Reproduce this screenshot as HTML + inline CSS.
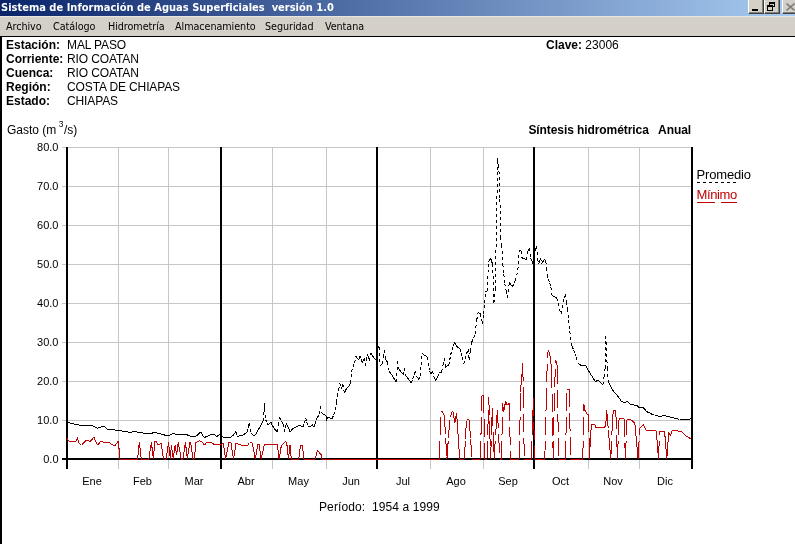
<!DOCTYPE html>
<html><head><meta charset="utf-8"><title>Sistema de Información de Aguas Superficiales</title>
<style>
html,body{margin:0;padding:0;background:#fff;}
body{width:795px;height:544px;position:relative;overflow:hidden;font-family:"Liberation Sans",Arial,sans-serif;font-size:12px;color:#000;}
.t{position:absolute;white-space:pre;line-height:14px;}
.b{font-weight:bold;}
#title{position:absolute;left:0;top:0;width:795px;height:16px;background:linear-gradient(to right,#0a246a 0px,#a6caf0 790px);}
#title span{position:absolute;left:1px;top:0px;color:#fff;font:bold 11px/15px "DejaVu Sans Condensed","DejaVu Sans","Liberation Sans",sans-serif;white-space:pre;letter-spacing:0.01px}
#menu{position:absolute;left:0;top:16px;width:795px;height:20px;background:#d4d0c8;border-top:1px solid #e8e6e0;box-sizing:border-box}
#menu span{position:absolute;top:3px;font:10.7px/13px "DejaVu Sans Condensed","DejaVu Sans","Liberation Sans",sans-serif;white-space:pre;letter-spacing:-0.05px}
#bt{position:absolute;left:0;top:36px;width:795px;height:1px;background:#000}
#bl{position:absolute;left:0;top:36px;width:2px;height:508px;background:#000}
.btn{position:absolute;top:-2px;height:16px;background:#d4d0c8;box-sizing:border-box;border:1px solid;border-color:#fff #404040 #404040 #fff;box-shadow:inset -1px -1px 0 #808080}
</style></head><body>
<div id="title"><span>Sistema de Información de Aguas Superficiales  versión 1.0</span>
<div class="btn" style="left:748px;width:16px"><div style="position:absolute;left:3px;top:10px;width:6px;height:2px;background:#000"></div></div>
<div class="btn" style="left:764px;width:16px">
 <div style="position:absolute;left:4px;top:3px;width:6px;height:5px;box-sizing:border-box;border:1px solid #000;border-top-width:2px"></div>
 <div style="position:absolute;left:2px;top:6px;width:6px;height:6px;box-sizing:border-box;border:1px solid #000;border-top-width:2px;background:#d4d0c8"></div>
</div>
<div class="btn" style="left:782px;width:16px"><svg width="10" height="9" style="position:absolute;left:3px;top:4px" viewBox="0 0 10 9"><path d="M0.5 0.5L8.5 7.5M8.5 0.5L0.5 7.5" stroke="#808080" stroke-width="1.6" fill="none"/></svg></div>
</div>
<div id="menu"><span style="left:6px">Archivo</span><span style="left:53px">Catálogo</span><span style="left:108px">Hidrometría</span><span style="left:175px">Almacenamiento</span><span style="left:265px">Seguridad</span><span style="left:325px">Ventana</span></div>
<div id="bt"></div><div id="bl"></div>
<div class="t b" style="left:6px;top:38px">Estación:
Corriente:
Cuenca:
Región:
Estado:</div>
<div class="t" style="left:67px;top:38px;letter-spacing:-0.12px">MAL PASO
RIO COATAN
RIO COATAN
COSTA DE CHIAPAS
CHIAPAS</div>
<div class="t" style="left:546px;top:38px"><b>Clave:</b> 23006</div>
<div class="t" style="left:7px;top:123px">Gasto (m<span style="font-size:8.5px;position:relative;top:-7px;margin:0 0.6px 0 2.3px">3</span>/s)</div>
<div class="t b" style="right:104px;top:123px;letter-spacing:-0.08px">Síntesis hidrométrica   Anual</div>
<div class="t" style="left:696.5px;top:167px;font-size:13px;line-height:15px;letter-spacing:-0.15px">Promedio</div>
<div class="t" style="left:696.5px;top:187px;font-size:13px;line-height:15px;color:#c00000;letter-spacing:-0.4px">Mínimo</div>
<div class="t" style="left:319px;top:500px;letter-spacing:0.1px">Período:  1954 a 1999</div>
<svg width="795" height="544" viewBox="0 0 795 544" style="position:absolute;left:0;top:0">
<g shape-rendering="crispEdges">
<rect x="62" y="147" width="630" height="1" fill="#c6c6c6"/>
<rect x="62" y="186" width="630" height="1" fill="#c6c6c6"/>
<rect x="62" y="225" width="630" height="1" fill="#c6c6c6"/>
<rect x="62" y="264" width="630" height="1" fill="#c6c6c6"/>
<rect x="62" y="303" width="630" height="1" fill="#c6c6c6"/>
<rect x="62" y="342" width="630" height="1" fill="#c6c6c6"/>
<rect x="62" y="381" width="630" height="1" fill="#c6c6c6"/>
<rect x="62" y="420" width="630" height="1" fill="#c6c6c6"/>
<rect x="118" y="147" width="1" height="322" fill="#c6c6c6"/>
<rect x="168" y="147" width="1" height="322" fill="#c6c6c6"/>
<rect x="272" y="147" width="1" height="322" fill="#c6c6c6"/>
<rect x="326" y="147" width="1" height="322" fill="#c6c6c6"/>
<rect x="430" y="147" width="1" height="322" fill="#c6c6c6"/>
<rect x="483" y="147" width="1" height="322" fill="#c6c6c6"/>
<rect x="588" y="147" width="1" height="322" fill="#c6c6c6"/>
<rect x="639" y="147" width="1" height="322" fill="#c6c6c6"/>
<rect x="66" y="147" width="2" height="322" fill="#000"/>
<rect x="220" y="147" width="2" height="322" fill="#000"/>
<rect x="376" y="147" width="2" height="322" fill="#000"/>
<rect x="533" y="147" width="2" height="322" fill="#000"/>
<rect x="691" y="147" width="2" height="322" fill="#000"/>
<rect x="62" y="458" width="631" height="2" fill="#000"/>
</g>
<g fill="none" stroke-width="1" shape-rendering="crispEdges">
<path stroke="#000" stroke-dasharray="3 3" d="M67.0 422.3L68.6 422.7M68.6 422.7L70.1 423.0M70.1 423.0L71.7 423.4M71.7 423.4L73.2 423.7M73.2 423.7L74.8 424.1M74.8 424.1L76.4 424.5M76.4 424.5L77.9 424.8M77.9 424.8L79.5 425.2M79.5 425.2L81.0 425.5M81.0 425.5L82.6 425.9M82.6 425.9L84.2 425.8M84.2 425.8L85.8 425.7M85.8 425.7L87.4 425.5M87.4 425.5L89.0 425.4M89.0 425.4L90.6 425.3M90.6 425.3L92.0 425.6M92.0 425.6L93.4 425.9M93.4 425.9L94.7 426.7M94.7 426.7L96.1 427.5M96.1 427.5L97.4 428.3M97.4 428.3L99.1 427.7M99.1 427.7L100.8 427.0M100.8 427.0L102.5 426.4M102.5 426.4L103.6 426.6M103.6 426.6L104.7 426.8M104.7 426.8L105.8 427.9M105.8 427.9L107.0 429.0M107.0 429.0L108.6 429.2M108.6 429.2L110.2 429.4M110.2 429.4L111.8 429.6M111.8 429.6L113.5 429.8M113.5 429.8L115.1 430.0M115.1 430.0L116.7 430.2M116.7 430.2L118.3 430.4M118.3 430.4L120.0 430.7M120.0 430.7L121.7 431.0M121.7 431.0L123.4 431.3M123.4 431.3L125.1 431.5M125.1 431.5L126.8 431.8M126.8 431.8L128.5 432.1M128.5 432.1L130.2 432.4M130.2 432.4L131.7 432.1M131.7 432.1L133.2 431.8M133.2 431.8L134.7 431.5M134.7 431.5L136.3 431.8M136.3 431.8L137.9 432.1M137.9 432.1L139.5 432.3M139.5 432.3L141.1 432.6M141.1 432.6L142.6 432.9M142.6 432.9L144.2 433.2M144.2 433.2L145.8 433.4M145.8 433.4L147.4 433.7M147.4 433.7L149.0 434.0M149.0 434.0L150.4 433.6M150.4 433.6L151.8 433.2M151.8 433.2L153.3 432.8M153.3 432.8L154.7 432.4M154.7 432.4L156.4 432.8M156.4 432.8L158.1 433.3M158.1 433.3L159.8 433.7M159.8 433.7L161.5 434.2M161.5 434.2L163.2 434.6M163.2 434.6L164.9 435.1M164.9 435.1L166.6 435.5M166.6 435.5L167.8 435.5M167.8 435.5L169.0 435.5M169.0 435.5L170.7 434.6M170.7 434.6L172.3 433.6M172.3 433.6L174.0 433.8M174.0 433.8L175.7 434.1M175.7 434.1L177.4 434.3M177.4 434.3L179.0 434.2M179.0 434.2L180.6 434.2M180.6 434.2L182.1 434.1M182.1 434.1L183.7 434.1M183.7 434.1L185.3 434.0M185.3 434.0L186.7 434.6M186.7 434.6L188.2 435.3M188.2 435.3L189.6 436.0M189.6 436.0L191.0 436.6M191.0 436.6L192.5 436.5M192.5 436.5L194.0 436.4M194.0 436.4L195.5 436.3M195.5 436.3L196.7 435.6M196.7 435.6L197.8 434.9M197.8 434.9L199.2 433.5M199.2 433.5L200.6 432.1M200.6 432.1L201.7 432.7M201.7 432.7L202.9 436.6M202.9 436.6L204.0 436.9M204.0 436.9L205.1 437.2M205.1 437.2L206.7 436.5M206.7 436.5L208.2 435.8M208.2 435.8L209.8 435.0M209.8 435.0L211.3 434.3M211.3 434.3L213.0 434.3M213.0 434.3L214.7 434.3M214.7 434.3L215.8 435.8M215.8 435.8L217.0 437.2M217.0 437.2L218.7 434.3M218.7 434.3L220.2 435.2M220.2 435.2L221.7 436.1M221.7 436.1L223.2 437.0M223.2 437.0L224.6 437.1M224.6 437.1L226.0 437.2M226.0 437.2L227.4 437.3M227.4 437.3L228.8 437.4M228.8 437.4L230.2 437.5M230.2 437.5L231.8 436.2M231.8 436.2L233.5 434.9M233.5 434.9L234.7 433.3M234.7 433.3L235.8 431.7M235.8 431.7L237.3 436.2M237.3 436.2L238.6 436.0M238.6 436.0L239.9 435.9M239.9 435.9L241.2 435.7M241.2 435.7L242.5 435.5M242.5 435.5L244.0 434.4M244.0 434.4L245.5 433.4M245.5 433.4L247.0 432.3M247.0 432.3L248.2 427.5M248.2 427.5L249.5 422.7M249.5 422.7L250.8 433.0M250.8 433.0L252.1 434.2M252.1 434.2L253.4 435.5M253.4 435.5L254.4 435.2M254.4 435.2L255.3 434.9M255.3 434.9L256.9 432.2M256.9 432.2L258.4 429.5M258.4 429.5L260.0 426.8M260.0 426.8L261.5 424.1M261.5 424.1L263.1 421.4M263.1 421.4L264.4 403.4M264.4 403.4L265.6 419.5M265.6 419.5L266.9 422.4M266.9 422.4L268.2 425.2M268.2 425.2L269.5 423.6M269.5 423.6L270.8 422.0M270.8 422.0L272.4 425.2M272.4 425.2L274.0 428.5M274.0 428.5L275.6 430.1M275.6 430.1L277.2 431.7M277.2 431.7L278.5 424.6M278.5 424.6L279.8 417.5M279.8 417.5L281.5 420.8M281.5 420.8L283.2 424.0M283.2 424.0L284.5 431.7M284.5 431.7L285.4 427.5M285.4 427.5L286.4 423.3M286.4 423.3L287.7 426.3M287.7 426.3L289.0 429.3M289.0 429.3L290.3 432.3M290.3 432.3L291.2 430.7M291.2 430.7L292.2 429.1M292.2 429.1L293.6 428.3M293.6 428.3L295.0 427.5M295.0 427.5L296.5 426.8M296.5 426.8L297.9 426.0M297.9 426.0L299.3 425.2M299.3 425.2L300.6 425.9M300.6 425.9L301.9 426.5M301.9 426.5L303.2 427.2M303.2 427.2L304.4 422.7M304.4 422.7L305.7 418.2M305.7 418.2L306.7 422.0M306.7 422.0L307.7 425.9M307.7 425.9L309.3 426.2M309.3 426.2L310.9 426.5M310.9 426.5L312.2 424.5M312.2 424.5L313.1 425.9M313.1 425.9L314.1 427.2M314.1 427.2L315.1 423.6M315.1 423.6L316.0 420.1M316.0 420.1L317.6 417.2M317.6 417.2L319.3 414.3M319.3 414.3L320.5 405.9M320.5 405.9L321.2 412.4M321.2 412.4L322.9 413.7M322.9 413.7L324.6 414.9M324.6 414.9L326.3 416.2M326.3 416.2L326.5 421.0M326.5 421.0L327.5 417.0M327.5 417.0L329.0 417.6M329.0 417.6L330.6 418.2M330.6 418.2L332.1 418.8M332.1 418.8L333.7 414.6M333.7 414.6L335.3 410.4M335.3 410.4L336.6 401.4M336.6 401.4L337.4 396.5M337.4 396.5L338.6 389.9M338.6 389.9L339.8 383.3M339.8 383.3L341.1 389.0M341.1 389.0L342.1 386.8M342.1 386.8L343.0 384.5M343.0 384.5L344.3 393.0M344.3 393.0L345.2 391.0M345.2 391.0L346.2 389.0M346.2 389.0L347.9 387.4M347.9 387.4L349.5 385.8M349.5 385.8L350.7 382.6M350.7 382.6L351.4 371.7M351.4 371.7L353.0 367.2M353.0 367.2L354.6 362.7M354.6 362.7L355.9 356.2M355.9 356.2L357.2 358.1M357.2 358.1L358.5 360.1M358.5 360.1L359.4 357.9M359.4 357.9L360.4 355.6M360.4 355.6L361.4 359.1M361.4 359.1L362.3 362.7M362.3 362.7L363.3 360.4M363.3 360.4L364.3 358.2M364.3 358.2L365.5 366.5M365.5 366.5L366.5 360.1M366.5 360.1L367.5 353.7M367.5 353.7L368.4 357.2M368.4 357.2L369.4 360.7M369.4 360.7L370.7 353.0M370.7 353.0L372.0 354.9M372.0 354.9L373.2 356.9M373.2 356.9L374.5 358.8M374.5 358.8L375.5 359.1M375.5 359.1L376.5 359.4M376.5 359.4L377.1 347.9M377.1 347.9L378.1 347.2M378.1 347.2L379.0 346.6M379.0 346.6L380.3 365.9M380.3 365.9L381.3 364.9M381.3 364.9L382.3 364.0M382.3 364.0L383.2 357.2M383.2 357.2L384.2 350.4M384.2 350.4L385.5 359.4M385.5 359.4L386.4 360.7M386.4 360.7L387.4 362.0M387.4 362.0L388.7 370.4M388.7 370.4L390.2 372.7M390.2 372.7L391.8 375.0M391.8 375.0L393.3 377.4M393.3 377.4L394.9 379.7M394.9 379.7L396.4 382.0M396.4 382.0L397.7 361.4M397.7 361.4L398.4 368.5M398.4 368.5L400.1 370.6M400.1 370.6L401.8 372.8M401.8 372.8L403.5 374.9M403.5 374.9L404.8 368.5M404.8 368.5L405.4 374.9M405.4 374.9L406.9 376.9M406.9 376.9L408.4 378.9M408.4 378.9L409.8 381.0M409.8 381.0L411.3 383.0M411.3 383.0L412.6 378.9M412.6 378.9L414.0 374.8M414.0 374.8L415.3 370.7M415.3 370.7L416.6 375.5M416.6 375.5L417.9 380.3M417.9 380.3L419.1 378.4M419.1 378.4L420.4 376.5M420.4 376.5L421.7 353.3M421.7 353.3L423.1 354.3M423.1 354.3L424.6 355.2M424.6 355.2L426.1 356.2M426.1 356.2L427.5 357.2M427.5 357.2L428.8 367.5M428.8 367.5L429.8 371.0M429.8 371.0L430.7 374.5M430.7 374.5L431.6 373.0M431.6 373.0L432.5 371.5M432.5 371.5L433.9 376.2M433.9 376.2L435.2 381.0M435.2 381.0L436.5 378.8M436.5 378.8L437.8 376.5M437.8 376.5L439.1 372.6M439.1 372.6L440.4 372.3M440.4 372.3L441.7 372.0M441.7 372.0L443.0 365.2M443.0 365.2L444.3 358.5M444.3 358.5L445.5 367.5M445.5 367.5L447.1 366.2M447.1 366.2L448.8 364.9M448.8 364.9L449.8 359.8M449.8 359.8L450.7 354.6M450.7 354.6L452.0 350.1M452.0 350.1L453.2 346.2M453.2 346.2L454.5 342.4M454.5 342.4L455.5 344.3M455.5 344.3L456.5 346.2M456.5 346.2L457.8 347.1M457.8 347.1L459.0 347.9M459.0 347.9L460.3 348.8M460.3 348.8L461.3 353.0M461.3 353.0L462.3 357.2M462.3 357.2L463.6 364.3M463.6 364.3L465.1 359.1M465.1 359.1L466.6 354.0M466.6 354.0L468.1 348.8M468.1 348.8L469.0 359.7M469.0 359.7L470.4 350.7M470.4 350.7L471.9 341.7M471.9 341.7L473.5 337.9M473.5 337.9L475.1 334.0M475.1 334.0L476.8 319.7M476.8 319.7L478.2 312.4M478.2 312.4L479.3 313.1M479.3 313.1L480.4 313.8M480.4 313.8L481.5 319.0M481.5 319.0L482.6 324.1M482.6 324.1L483.4 313.8M483.4 313.8L484.5 302.8M484.5 302.8L485.6 291.8M485.6 291.8L487.0 291.0M487.0 291.0L488.6 261.8M488.6 261.8L489.6 260.1M489.6 260.1L490.6 258.3M490.6 258.3L491.6 261.3M491.6 261.3L492.6 264.3M492.6 264.3L493.9 303.0M493.9 303.0L495.3 289.0M495.3 289.0L496.5 223.5M496.5 223.5L497.6 158.0M497.6 158.0L498.8 165.5M498.8 165.5L499.9 198.6M499.9 198.6L500.6 237.0M500.6 237.0L501.7 245.0M501.7 245.0L502.8 264.3M502.8 264.3L503.8 273.9M503.8 273.9L504.8 283.5M504.8 283.5L506.2 290.6M506.2 290.6L507.6 297.6M507.6 297.6L509.3 282.5M509.3 282.5L510.9 284.6M510.9 284.6L512.4 286.6M512.4 286.6L513.9 283.6M513.9 283.6L515.4 280.5M515.4 280.5L516.6 275.4M516.6 275.4L517.9 270.4M517.9 270.4L518.4 258.3M518.4 258.3L519.4 250.7M519.4 250.7L520.5 250.9M520.5 250.9L521.5 251.2M521.5 251.2L522.0 257.8M522.0 257.8L523.5 258.5M523.5 258.5L525.0 259.1M525.0 259.1L526.5 259.8M526.5 259.8L527.5 252.2M527.5 252.2L528.5 249.9M528.5 249.9L529.5 247.6M529.5 247.6L530.6 258.3M530.6 258.3L531.6 260.3M531.6 260.3L532.6 262.3M532.6 262.3L533.6 265.3M533.6 265.3L535.1 250.2M535.1 250.2L536.6 246.1M536.6 246.1L537.6 259.3M537.6 259.3L538.6 264.3M538.6 264.3L539.7 261.3M539.7 261.3L540.7 258.3M540.7 258.3L541.7 263.8M541.7 263.8L543.0 261.6M543.0 261.6L544.2 259.3M544.2 259.3L545.7 260.8M545.7 260.8L546.7 268.4M546.7 268.4L547.2 275.4M547.2 275.4L548.4 279.1M548.4 279.1L549.6 282.9M549.6 282.9L550.8 286.6M550.8 286.6L552.1 295.5M552.1 295.5L553.6 296.2M553.6 296.2L555.1 297.0M555.1 297.0L556.6 297.7M556.6 297.7L558.1 303.2M558.1 303.2L559.5 308.7M559.5 308.7L561.0 314.2M561.0 314.2L562.1 308.1M562.1 308.1L563.2 302.0M563.2 302.0L564.3 298.1M564.3 298.1L565.4 294.3M565.4 294.3L566.5 301.5M566.5 301.5L567.6 308.7M567.6 308.7L568.7 319.8M568.7 319.8L569.8 330.8M569.8 330.8L570.9 342.9M570.9 342.9L572.3 346.5M572.3 346.5L573.6 350.1M573.6 350.1L575.0 353.7M575.0 353.7L576.4 357.3M576.4 357.3L577.5 362.8M577.5 362.8L579.0 363.9M579.0 363.9L580.5 365.0M580.5 365.0L582.0 366.1M582.0 366.1L583.6 365.6M583.6 365.6L585.3 365.0M585.3 365.0L586.8 367.6M586.8 367.6L588.2 370.1M588.2 370.1L589.7 372.7M589.7 372.7L591.1 374.9M591.1 374.9L592.5 377.1M592.5 377.1L593.8 379.3M593.8 379.3L595.2 381.5M595.2 381.5L596.9 380.9M596.9 380.9L598.5 380.4M598.5 380.4L600.0 381.9M600.0 381.9L601.4 383.4M601.4 383.4L602.9 384.9M602.9 384.9L604.0 376.6M604.0 376.6L605.1 368.3M605.1 368.3L605.8 336.3M605.8 336.3L607.3 368.3M607.3 368.3L608.4 381.5M608.4 381.5L609.8 384.3M609.8 384.3L611.1 387.1M611.1 387.1L612.5 389.9M612.5 389.9L614.1 391.8M614.1 391.8L615.8 393.8M615.8 393.8L617.4 395.7M617.4 395.7L618.8 397.6M618.8 397.6L620.2 399.6M620.2 399.6L621.6 401.5M621.6 401.5L623.2 402.3M623.2 402.3L624.9 403.1M624.9 403.1L626.1 402.1M626.1 402.1L627.4 401.2M627.4 401.2L628.6 402.6M628.6 402.6L629.8 404.0M629.8 404.0L631.3 404.3M631.3 404.3L632.8 404.6M632.8 404.6L634.3 405.0M634.3 405.0L635.8 405.3M635.8 405.3L637.3 405.6M637.3 405.6L638.5 406.9M638.5 406.9L639.8 408.1M639.8 408.1L641.5 407.7M641.5 407.7L643.1 407.3M643.1 407.3L644.8 409.4M644.8 409.4L646.4 411.4M646.4 411.4L648.0 412.2M648.0 412.2L649.7 413.0M649.7 413.0L651.4 413.9M651.4 413.9L653.0 414.7M653.0 414.7L654.6 415.1M654.6 415.1L656.3 415.5M656.3 415.5L658.0 416.0M658.0 416.0L659.6 416.4M659.6 416.4L661.3 416.1M661.3 416.1L662.9 415.9M662.9 415.9L664.6 415.6M664.6 415.6L666.2 416.0M666.2 416.0L667.9 416.4M667.9 416.4L669.6 416.8M669.6 416.8L671.2 417.2M671.2 417.2L672.9 417.6M672.9 417.6L674.5 418.1M674.5 418.1L676.2 418.5M676.2 418.5L677.8 419.0M677.8 419.0L679.5 419.4M679.5 419.4L681.2 419.4M681.2 419.4L682.8 419.4M682.8 419.4L684.5 419.4M684.5 419.4L686.1 419.4M686.1 419.4L687.8 419.4M687.8 419.4L689.4 419.1M689.4 419.1L691.0 418.9"/>
<path stroke="#c00000" stroke-dasharray="18 6" d="M67.0 438.5L68.0 439.8M68.0 439.8L69.0 441.1M69.0 441.1L70.5 441.1M70.5 441.1L72.0 441.1M72.0 441.1L73.4 441.1M73.4 441.1L74.9 441.1M74.9 441.1L76.4 441.1M76.4 441.1L77.5 437.2M77.5 437.2L78.7 442.8M78.7 442.8L80.1 444.1M80.1 444.1L81.5 445.3M81.5 445.3L83.2 443.4M83.2 443.4L84.9 441.6M84.9 441.6L86.6 439.7M86.6 439.7L88.2 440.7M88.2 440.7L89.7 441.7M89.7 441.7L91.1 440.2M91.1 440.2L92.6 438.7M92.6 438.7L94.0 437.2M94.0 437.2L95.4 440.6M95.4 440.6L96.8 444.0M96.8 444.0L98.5 444.0M98.5 444.0L99.7 442.6M99.7 442.6L100.8 441.1M100.8 441.1L102.2 441.7M102.2 441.7L103.6 442.3M103.6 442.3L105.1 442.4M105.1 442.4L106.7 442.5M106.7 442.5L108.2 442.5M108.2 442.5L109.8 442.6M109.8 442.6L111.2 443.9M111.2 443.9L112.7 445.1M112.7 445.1L114.1 445.1M114.1 445.1L115.5 445.1M115.5 445.1L116.9 443.0M116.9 443.0L118.3 440.8M118.3 440.8L120.0 459.0M120.0 459.0L121.6 459.0M121.6 459.0L123.2 459.0M123.2 459.0L124.8 459.0M124.8 459.0L126.4 459.0M126.4 459.0L128.0 459.0M128.0 459.0L129.6 459.0M129.6 459.0L131.2 459.0M131.2 459.0L132.8 459.0M132.8 459.0L134.4 459.0M134.4 459.0L136.0 459.0M136.0 459.0L137.6 459.0M137.6 459.0L139.3 442.3M139.3 442.3L140.3 450.6M140.3 450.6L141.3 459.0M141.3 459.0L142.8 459.0M142.8 459.0L144.3 459.0M144.3 459.0L145.8 459.0M145.8 459.0L147.3 459.0M147.3 459.0L148.8 459.0M148.8 459.0L150.1 450.7M150.1 450.7L151.4 442.4M151.4 442.4L152.4 450.7M152.4 450.7L153.3 459.0M153.3 459.0L154.8 441.2M154.8 441.2L156.3 441.6M156.3 441.6L157.4 443.5M157.4 443.5L158.6 445.4M158.6 445.4L159.9 444.2M159.9 444.2L161.2 443.1M161.2 443.1L162.3 451.1M162.3 451.1L163.5 459.0M163.5 459.0L164.8 459.0M164.8 459.0L166.1 459.0M166.1 459.0L167.3 450.7M167.3 450.7L168.5 442.4M168.5 442.4L169.4 450.7M169.4 450.7L170.3 459.0M170.3 459.0L171.4 445.4M171.4 445.4L172.4 452.2M172.4 452.2L173.3 459.0M173.3 459.0L174.2 452.0M174.2 452.0L175.2 445.0M175.2 445.0L176.6 455.0M176.6 455.0L178.2 442.4M178.2 442.4L179.7 450.7M179.7 450.7L181.2 459.0M181.2 459.0L182.1 459.0M182.1 459.0L183.1 459.0M183.1 459.0L184.2 450.7M184.2 450.7L185.4 442.4M185.4 442.4L186.4 450.7M186.4 450.7L187.3 459.0M187.3 459.0L188.6 450.7M188.6 450.7L189.9 442.4M189.9 442.4L190.7 442.4M190.7 442.4L191.8 450.7M191.8 450.7L192.9 459.0M192.9 459.0L194.4 459.0M194.4 459.0L195.9 442.4M195.9 442.4L197.6 441.6M197.6 441.6L199.3 440.8M199.3 440.8L200.4 441.0M200.4 441.0L201.6 441.2M201.6 441.2L203.1 443.2M203.1 443.2L204.5 445.2M204.5 445.2L205.4 443.9M205.4 443.9L206.4 442.6M206.4 442.6L207.7 442.6M207.7 442.6L209.0 442.6M209.0 442.6L210.3 442.6M210.3 442.6L211.6 442.6M211.6 442.6L212.9 443.6M212.9 443.6L214.2 444.5M214.2 444.5L215.7 444.5M215.7 444.5L217.3 444.5M217.3 444.5L218.8 444.5M218.8 444.5L220.4 444.5M220.4 444.5L221.9 444.5M221.9 444.5L223.2 442.6M223.2 442.6L224.4 450.8M224.4 450.8L225.7 459.0M225.7 459.0L227.3 450.8M227.3 450.8L229.0 442.6M229.0 442.6L229.9 442.6M229.9 442.6L230.9 442.6M230.9 442.6L232.2 450.8M232.2 450.8L233.5 459.0M233.5 459.0L234.8 451.1M234.8 451.1L236.0 443.3M236.0 443.3L237.3 443.8M237.3 443.8L238.6 444.2M238.6 444.2L239.9 444.7M239.9 444.7L241.2 445.2M241.2 445.2L242.8 445.2M242.8 445.2L244.4 445.2M244.4 445.2L246.0 445.2M246.0 445.2L247.6 445.2M247.6 445.2L248.6 443.9M248.6 443.9L249.5 442.6M249.5 442.6L250.8 442.6M250.8 442.6L252.1 442.6M252.1 442.6L253.7 450.8M253.7 450.8L255.3 459.0M255.3 459.0L256.6 451.8M256.6 451.8L257.9 444.5M257.9 444.5L259.2 444.5M259.2 444.5L260.1 451.8M260.1 451.8L261.1 459.0M261.1 459.0L262.8 451.8M262.8 451.8L264.4 444.5M264.4 444.5L266.0 444.5M266.0 444.5L267.6 444.5M267.6 444.5L269.2 444.5M269.2 444.5L270.8 444.5M270.8 444.5L272.4 444.5M272.4 444.5L274.0 444.5M274.0 444.5L275.6 444.5M275.6 444.5L277.2 444.5M277.2 444.5L278.2 451.8M278.2 451.8L279.2 459.0M279.2 459.0L280.2 452.4M280.2 452.4L281.3 445.8M281.3 445.8L282.8 444.3M282.8 444.3L284.3 442.8M284.3 442.8L285.8 441.3M285.8 441.3L287.1 445.8M287.1 445.8L288.4 459.0M288.4 459.0L290.0 445.2M290.0 445.2L291.3 459.0M291.3 459.0L292.8 459.0M292.8 459.0L294.3 459.0M294.3 459.0L295.7 459.0M295.7 459.0L297.2 459.0M297.2 459.0L298.7 459.0M298.7 459.0L299.6 452.1M299.6 452.1L300.6 445.2M300.6 445.2L301.6 445.2M301.6 445.2L302.5 445.2M302.5 445.2L303.8 459.0M303.8 459.0L305.5 459.0M305.5 459.0L307.1 459.0M307.1 459.0L308.8 459.0M308.8 459.0L310.4 459.0M310.4 459.0L312.1 459.0M312.1 459.0L313.7 459.0M313.7 459.0L315.4 459.0M315.4 459.0L316.4 454.6M316.4 454.6L317.3 450.3M317.3 450.3L318.6 451.8M318.6 451.8L319.9 453.3M319.9 453.3L321.2 454.8M321.2 454.8L321.8 459.0M321.8 459.0L323.5 459.0M323.5 459.0L325.2 459.0M325.2 459.0L326.9 459.0M326.9 459.0L328.6 459.0M328.6 459.0L330.3 459.0M330.3 459.0L332.0 459.0M332.0 459.0L333.8 459.0M333.8 459.0L335.5 459.0M335.5 459.0L337.2 459.0M337.2 459.0L338.9 459.0M338.9 459.0L340.6 459.0M340.6 459.0L342.3 459.0M342.3 459.0L344.0 459.0M344.0 459.0L345.7 459.0M345.7 459.0L347.4 459.0M347.4 459.0L349.1 459.0M349.1 459.0L350.8 459.0M350.8 459.0L352.5 459.0M352.5 459.0L354.2 459.0M354.2 459.0L355.9 459.0M355.9 459.0L357.7 459.0M357.7 459.0L359.4 459.0M359.4 459.0L361.1 459.0M361.1 459.0L362.8 459.0M362.8 459.0L364.5 459.0M364.5 459.0L366.2 459.0M366.2 459.0L367.9 459.0M367.9 459.0L369.6 459.0M369.6 459.0L371.3 459.0M371.3 459.0L373.0 459.0M373.0 459.0L374.7 459.0M374.7 459.0L376.4 459.0M376.4 459.0L378.1 459.0M378.1 459.0L379.8 459.0M379.8 459.0L381.6 459.0M381.6 459.0L383.3 459.0M383.3 459.0L385.0 459.0M385.0 459.0L386.7 459.0M386.7 459.0L388.4 459.0M388.4 459.0L390.1 459.0M390.1 459.0L391.8 459.0M391.8 459.0L393.5 459.0M393.5 459.0L395.2 459.0M395.2 459.0L396.9 459.0M396.9 459.0L398.6 459.0M398.6 459.0L400.3 459.0M400.3 459.0L402.0 459.0M402.0 459.0L403.7 459.0M403.7 459.0L405.5 459.0M405.5 459.0L407.2 459.0M407.2 459.0L408.9 459.0M408.9 459.0L410.6 459.0M410.6 459.0L412.3 459.0M412.3 459.0L414.0 459.0M414.0 459.0L415.7 459.0M415.7 459.0L417.4 459.0M417.4 459.0L419.1 459.0M419.1 459.0L420.8 459.0M420.8 459.0L422.5 459.0M422.5 459.0L424.2 459.0M424.2 459.0L425.9 459.0M425.9 459.0L427.6 459.0M427.6 459.0L429.4 459.0M429.4 459.0L431.1 459.0M431.1 459.0L432.8 459.0M432.8 459.0L434.5 459.0M434.5 459.0L436.2 459.0M436.2 459.0L437.9 459.0M437.9 459.0L439.6 459.0M439.6 459.0L440.6 410.7M440.6 410.7L442.3 411.4M442.3 411.4L443.4 413.8M443.4 413.8L444.4 416.2M444.4 416.2L445.6 437.6M445.6 437.6L446.9 459.0M446.9 459.0L448.4 438.3M448.4 438.3L449.9 417.6M449.9 417.6L451.3 414.1M451.3 414.1L452.7 410.7M452.7 410.7L453.8 416.9M453.8 416.9L454.8 423.1M454.8 423.1L455.7 418.0M455.7 418.0L456.6 412.8M456.6 412.8L457.5 425.9M457.5 425.9L458.6 442.4M458.6 442.4L459.6 459.0M459.6 459.0L461.2 459.0M461.2 459.0L462.8 459.0M462.8 459.0L464.4 459.0M464.4 459.0L465.4 439.4M465.4 439.4L466.5 419.7M466.5 419.7L467.9 419.7M467.9 419.7L469.2 419.7M469.2 419.7L470.6 439.4M470.6 439.4L472.0 459.0M472.0 459.0L473.7 459.0M473.7 459.0L475.4 459.0M475.4 459.0L477.0 459.0M477.0 459.0L478.7 459.0M478.7 459.0L480.4 459.0M480.4 459.0L481.9 396.0M481.9 396.0L482.8 395.8M482.8 395.8L483.7 395.5M483.7 395.5L484.5 459.0M484.5 459.0L485.8 459.0M485.8 459.0L487.0 459.0M487.0 459.0L487.9 428.2M487.9 428.2L488.8 397.5M488.8 397.5L489.7 428.2M489.7 428.2L490.6 459.0M490.6 459.0L492.3 408.5M492.3 408.5L493.2 433.8M493.2 433.8L494.1 459.0M494.1 459.0L495.8 432.0M495.8 432.0L497.4 410.3M497.4 410.3L498.6 434.6M498.6 434.6L499.8 459.0M499.8 459.0L500.7 459.0M500.7 459.0L501.6 459.0M501.6 459.0L502.5 403.2M502.5 403.2L503.6 412.0M503.6 412.0L504.6 406.8M504.6 406.8L505.6 401.5M505.6 401.5L507.3 405.0M507.3 405.0L508.4 404.1M508.4 404.1L509.4 403.2M509.4 403.2L510.4 459.0M510.4 459.0L511.9 459.0M511.9 459.0L513.3 459.0M513.3 459.0L514.8 459.0M514.8 459.0L516.3 459.0M516.3 459.0L517.7 459.0M517.7 459.0L519.2 459.0M519.2 459.0L520.6 392.0M520.6 392.0L522.3 363.0M522.3 363.0L523.7 390.0M523.7 390.0L524.1 459.0M524.1 459.0L525.5 459.0M525.5 459.0L526.9 459.0M526.9 459.0L528.4 459.0M528.4 459.0L529.8 459.0M529.8 459.0L531.2 459.0M531.2 459.0L532.3 428.5M532.3 428.5L533.4 398.0M533.4 398.0L534.6 459.0M534.6 459.0L536.3 459.0M536.3 459.0L538.0 459.0M538.0 459.0L539.7 459.0M539.7 459.0L541.4 459.0M541.4 459.0L543.1 459.0M543.1 459.0L544.8 459.0M544.8 459.0L546.1 406.0M546.1 406.0L547.5 353.0M547.5 353.0L548.6 350.3M548.6 350.3L550.1 356.5M550.1 356.5L551.7 370.0M551.7 370.0L553.2 459.0M553.2 459.0L554.5 386.5M554.5 386.5L555.9 360.4M555.9 360.4L557.3 366.0M557.3 366.0L558.5 459.0M558.5 459.0L559.9 459.0M559.9 459.0L561.3 459.0M561.3 459.0L562.8 459.0M562.8 459.0L564.2 459.0M564.2 459.0L565.6 459.0M565.6 459.0L566.7 389.0M566.7 389.0L568.1 389.0M568.1 389.0L569.5 389.0M569.5 389.0L570.4 459.0M570.4 459.0L571.9 459.0M571.9 459.0L573.5 459.0M573.5 459.0L575.0 459.0M575.0 459.0L576.6 459.0M576.6 459.0L578.1 459.0M578.1 459.0L579.7 459.0M579.7 459.0L581.2 459.0M581.2 459.0L582.8 459.0M582.8 459.0L583.8 404.0M583.8 404.0L585.0 410.6M585.0 410.6L586.1 412.3M586.1 412.3L587.2 414.0M587.2 414.0L588.7 414.5M588.7 414.5L589.3 459.0M589.3 459.0L590.3 441.6M590.3 441.6L591.4 424.3M591.4 424.3L593.0 424.3M593.0 424.3L594.7 424.3M594.7 424.3L596.0 427.4M596.0 427.4L597.6 427.4M597.6 427.4L599.2 427.4M599.2 427.4L600.8 427.4M600.8 427.4L602.4 427.4M602.4 427.4L604.0 427.4M604.0 427.4L605.7 425.6M605.7 425.6L606.7 409.8M606.7 409.8L608.3 429.6M608.3 429.6L609.5 444.3M609.5 444.3L610.8 459.0M610.8 459.0L612.5 419.7M612.5 419.7L613.3 410.6M613.3 410.6L614.5 410.6M614.5 410.6L615.8 410.6M615.8 410.6L617.4 459.0M617.4 459.0L619.1 418.0M619.1 418.0L620.7 418.3M620.7 418.3L622.4 418.6M622.4 418.6L624.0 418.9M624.0 418.9L625.4 459.0M625.4 459.0L626.9 419.7M626.9 419.7L628.2 419.7M628.2 419.7L629.4 419.7M629.4 419.7L630.7 419.7M630.7 419.7L632.1 420.8M632.1 420.8L633.4 421.9M633.4 421.9L634.8 423.0M634.8 423.0L636.5 441.0M636.5 441.0L638.1 459.0M638.1 459.0L639.8 428.0M639.8 428.0L641.5 426.4M641.5 426.4L643.1 424.7M643.1 424.7L644.8 427.6M644.8 427.6L646.4 430.5M646.4 430.5L648.1 430.5M648.1 430.5L649.7 430.5M649.7 430.5L651.4 430.5M651.4 430.5L653.0 430.5M653.0 430.5L654.7 430.5M654.7 430.5L656.3 431.3M656.3 431.3L657.4 445.1M657.4 445.1L658.5 459.0M658.5 459.0L659.6 431.3M659.6 431.3L661.3 431.3M661.3 431.3L662.9 431.3M662.9 431.3L664.6 431.3M664.6 431.3L665.7 445.1M665.7 445.1L666.8 459.0M666.8 459.0L667.8 445.6M667.8 445.6L668.7 432.1M668.7 432.1L670.4 436.3M670.4 436.3L672.1 430.5M672.1 430.5L673.6 430.6M673.6 430.6L675.1 430.8M675.1 430.8L676.7 430.9M676.7 430.9L678.2 431.0M678.2 431.0L679.7 431.2M679.7 431.2L681.2 431.3M681.2 431.3L682.8 433.0M682.8 433.0L684.5 434.6M684.5 434.6L686.1 436.3M686.1 436.3L687.7 437.1M687.7 437.1L689.4 437.9M689.4 437.9L691.0 438.7"/>
<path stroke="#000" stroke-dasharray="3 3" d="M697 182.5H736"/>
<path stroke="#c00000" stroke-dasharray="18 6" d="M697 202.5H737"/>
</g>
<g font-family="Liberation Sans, Arial, sans-serif" font-size="11px" fill="#000" text-anchor="end">
<text x="58.5" y="151">80.0</text>
<text x="58.5" y="190">70.0</text>
<text x="58.5" y="229">60.0</text>
<text x="58.5" y="268">50.0</text>
<text x="58.5" y="307">40.0</text>
<text x="58.5" y="346">30.0</text>
<text x="58.5" y="385">20.0</text>
<text x="58.5" y="424">10.0</text>
<text x="58.5" y="463">0.0</text>
</g>
<g font-family="Liberation Sans, Arial, sans-serif" font-size="11px" fill="#000" text-anchor="middle">
<text x="92.0" y="485">Ene</text>
<text x="142.5" y="485">Feb</text>
<text x="194.0" y="485">Mar</text>
<text x="246.0" y="485">Abr</text>
<text x="298.5" y="485">May</text>
<text x="351.0" y="485">Jun</text>
<text x="403.0" y="485">Jul</text>
<text x="456.0" y="485">Ago</text>
<text x="508.0" y="485">Sep</text>
<text x="560.5" y="485">Oct</text>
<text x="613.0" y="485">Nov</text>
<text x="665.0" y="485">Dic</text>
</g>
</svg>
</body></html>
